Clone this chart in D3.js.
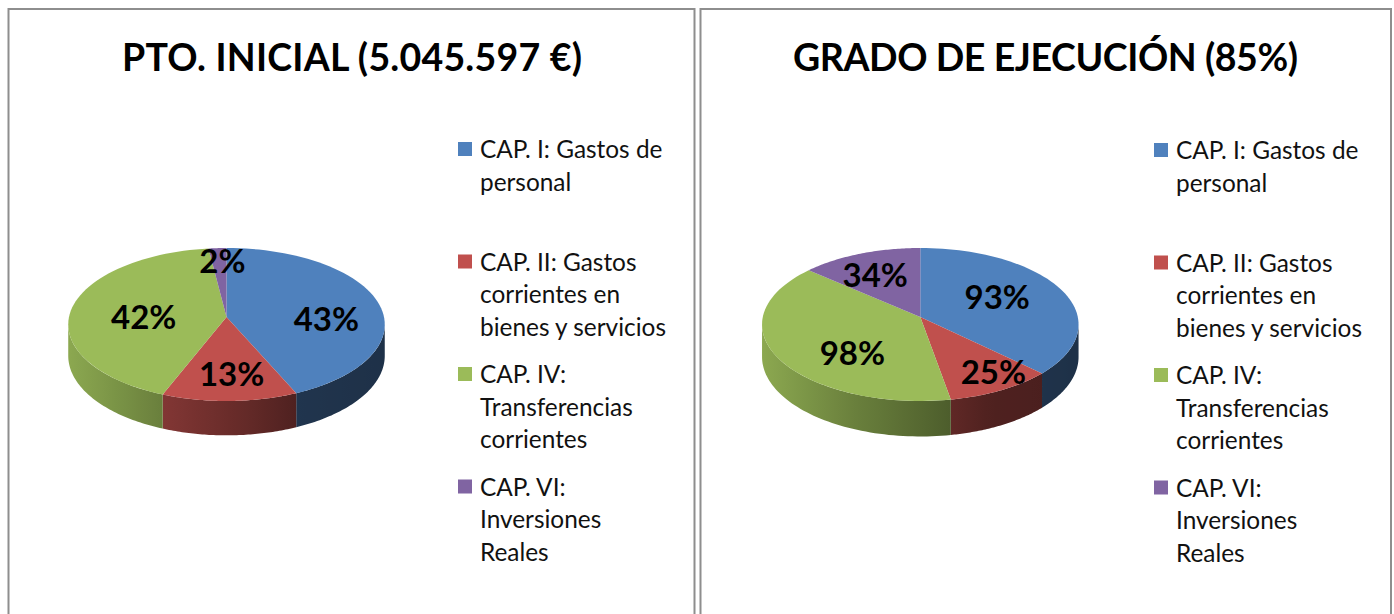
<!DOCTYPE html>
<html>
<head>
<meta charset="utf-8">
<script src="https://cdn.jsdelivr.net/npm/d3@7"></script>
<style>
  html, body { margin: 0; padding: 0; background: #fff; overflow: hidden; }
  text { font-family: Lato, "Open Sans", sans-serif; fill: #000; }
  .title { font-weight: 700; font-size: 37.5px; text-anchor: middle; }
  .legend { font-size: 24.4px; fill: #111; }
  .pct { font-weight: 700; font-size: 33px; text-anchor: middle; dominant-baseline: central; }
</style>
</head>
<body>
<svg id="chart" width="1394" height="614"></svg>
<script>
'use strict'

// legend text, one inner array per line
const categories = [
  ['CAP. I: Gastos de', 'personal'],
  ['CAP. II: Gastos', 'corrientes en', 'bienes y servicios'],
  ['CAP. IV:', 'Transferencias', 'corrientes'],
  ['CAP. VI:', 'Inversiones', 'Reales']
]
const colors = ['#4f81bd', '#c0504d', '#9bbb59', '#8064a2']

const inicialTitle = 'PTO. INICIAL (5.045.597 €)'
const inicialValues = [43.4, 12.6, 42, 2] // labels show these rounded

const ejecucionTitle = 'GRADO DE EJECUCIÓN (85%)'
const ejecucionValues = [93, 25, 98, 34]

// layout of each panel
const panels = [
  {title: inicialTitle, values: inicialValues, frame: [8.5, 694.5], titleX: 352, titleWidth: 460, cx: 226.5, legendX: 458, legendDy: 0, depth: 31,
   nudges: [[1, 11], [3, 3], [18, 5], [2, -11]]},
  {title: ejecucionTitle, values: ejecucionValues, frame: [700.5, 1391], titleX: 1045.5, titleWidth: 505, cx: 920.3, legendX: 1154, legendDy: 1, depth: 32,
   nudges: [[-15, -2], [22, 8], [24, 10], [-5, -1]]}
]

const cy = 317 // where the slices meet
const radiusX = 157.5
const radiusY = 75.76
const tilt = -0.098 // perspective: front of the pie is drawn bigger than the back

const svg = d3.select('#chart')
const defs = svg.append('defs')

const pie = d3.pie().sort(null).value((d) => d)
const formatPct = d3.format('.0f')

// wall brightness along x, measured from the pie center
const shade = d3.scaleLinear()
  .domain([-158, -64, 30, 70, 158])
  .range([0.9, 0.68, 0.5, 0.41, 0.38])
  .clamp(true)

function project(cx, angle, r) {
  const u = r * Math.sin(angle)
  const v = -r * Math.cos(angle)
  const s = 1 / (1 + tilt * v)
  return [cx + radiusX * u * s, cy + radiusY * v * s, s]
}

function arcPoints(cx, a0, a1) {
  return d3.range(0, 61).map((i) => project(cx, a0 + (a1 - a0) * i / 60, 1))
}

const line = d3.line()

panels.forEach((panel, p) => {
  const g = svg.append('g')

  // frame, runs off the bottom of the picture
  g.append('path')
    .attr('d', `M${panel.frame[0]},640V9H${panel.frame[1]}V640`)
    .attr('fill', 'none')
    .attr('stroke', '#8e8e8e')
    .attr('stroke-width', 2)

  g.append('text')
    .attr('class', 'title')
    .attr('x', panel.titleX)
    .attr('y', 71)
    .attr('textLength', panel.titleWidth)
    .text(panel.title)

  const arcs = pie(panel.values)

  // front walls: only the part of the rim that faces the viewer
  const frontStart = 95.6 * Math.PI / 180
  const frontEnd = 264.4 * Math.PI / 180
  arcs.forEach((d, i) => {
    const a0 = Math.max(d.startAngle, frontStart)
    const a1 = Math.min(d.endAngle, frontEnd)
    if (a1 <= a0) return
    const top = arcPoints(panel.cx, a0, a1)
    const bottom = top.map((q) => [q[0], q[1] + panel.depth * q[2]]).reverse()
    const x0 = d3.min(top, (q) => q[0])
    const x1 = d3.max(top, (q) => q[0])
    const id = `wall-${p}-${i}`
    const grad = defs.append('linearGradient')
      .attr('id', id)
      .attr('gradientUnits', 'userSpaceOnUse')
      .attr('x1', x0).attr('x2', x1).attr('y1', 0).attr('y2', 0)
    d3.range(0, 9).forEach((k) => {
      const c = d3.rgb(colors[i])
      const f = shade(x0 + (x1 - x0) * k / 8 - panel.cx)
      grad.append('stop')
        .attr('offset', k / 8)
        .attr('stop-color', d3.rgb(c.r * f, c.g * f, c.b * f).formatHex())
    })
    g.append('path')
      .attr('d', line(top.concat(bottom).map((q) => [q[0], q[1]])) + 'Z')
      .attr('fill', `url(#${id})`)
  })

  // top surface
  arcs.forEach((d, i) => {
    const rim = arcPoints(panel.cx, d.startAngle, d.endAngle).map((q) => [q[0], q[1]])
    g.append('path')
      .attr('d', line([[panel.cx, cy]].concat(rim)) + 'Z')
      .attr('fill', colors[i])
  })

  // value labels
  arcs.forEach((d, i) => {
    const mid = (d.startAngle + d.endAngle) / 2
    const q = project(panel.cx, mid, 0.65)
    g.append('text')
      .attr('class', 'pct')
      .attr('x', q[0] + panel.nudges[i][0])
      .attr('y', q[1] + panel.nudges[i][1])
      .text(formatPct(d.value) + '%')
  })

  // legend
  const legendY = d3.scalePoint()
    .domain(d3.range(categories.length))
    .range([149 + panel.legendDy, 486.5 + panel.legendDy])
  const item = g.selectAll('g.item')
    .data(categories)
    .enter().append('g')
    .attr('class', 'item')
    .attr('transform', (d, i) => `translate(${panel.legendX},${legendY(i)})`)
  item.append('rect')
    .attr('y', -7)
    .attr('width', 14)
    .attr('height', 14)
    .attr('fill', (d, i) => colors[i])
  item.selectAll('text')
    .data((d) => d)
    .enter().append('text')
    .attr('class', 'legend')
    .attr('x', 22)
    .attr('y', (d, j) => 9 + j * 32.7)
    .text((d) => d)
})
</script>
</body>
</html>
